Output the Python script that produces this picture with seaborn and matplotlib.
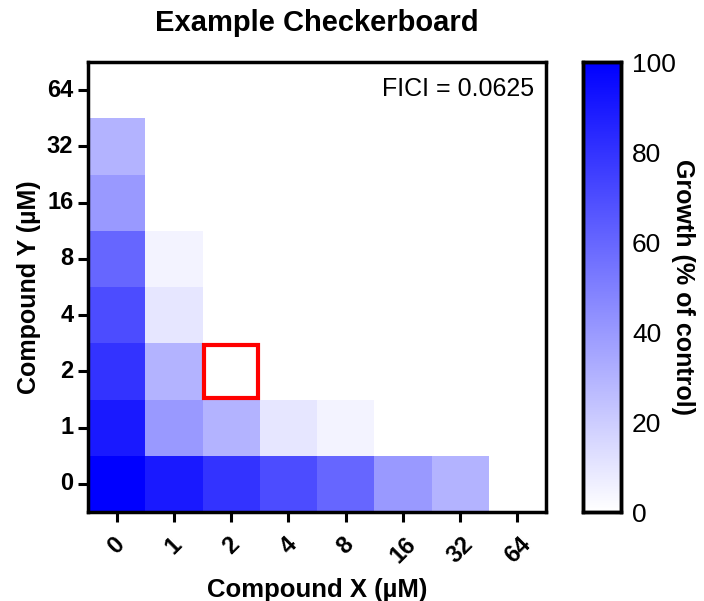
import numpy as np
import pandas as pd
import matplotlib
matplotlib.use("Agg")
import matplotlib.pyplot as plt
from matplotlib.colors import LinearSegmentedColormap
from matplotlib.patches import Rectangle
import seaborn as sns

# data: growth (% of control), rows = compound Y, cols = compound X
conc_x = ["0", "1", "2", "4", "8", "16", "32", "64"]
conc_y = ["0", "1", "2", "4", "8", "16", "32", "64"]
growth_y0 = [100, 90, 80, 70, 60, 40, 30, 0]
growth_y1 = [90, 40, 30, 10, 5, 0, 0, 0]
growth_y2 = [80, 30, 0, 0, 0, 0, 0, 0]
growth_y4 = [70, 10, 0, 0, 0, 0, 0, 0]
growth_y8 = [60, 5, 0, 0, 0, 0, 0, 0]
growth_y16 = [40, 0, 0, 0, 0, 0, 0, 0]
growth_y32 = [30, 0, 0, 0, 0, 0, 0, 0]
growth_y64 = [0, 0, 0, 0, 0, 0, 0, 0]
fici_x, fici_y = "2", "2"
fici_text = "FICI = 0.0625"

rows = [growth_y0, growth_y1, growth_y2, growth_y4,
        growth_y8, growth_y16, growth_y32, growth_y64]
df = pd.DataFrame(rows, index=conc_y, columns=conc_x).iloc[::-1]

sns.set_style("white")
plt.rcParams['font.family'] = ['Liberation Sans', 'DejaVu Sans']
plt.rcParams['text.color'] = 'black'
plt.rcParams['axes.labelcolor'] = 'black'
plt.rcParams['xtick.color'] = 'black'
plt.rcParams['ytick.color'] = 'black'

cmap = LinearSegmentedColormap.from_list("wb", ["#FFFFFF", "#0000FF"])

fig = plt.figure(figsize=(7.04, 6.01), dpi=100)
ax = fig.add_axes([88 / 704, 1 - 512 / 601, 458 / 704, 450 / 601])
cax = fig.add_axes([583 / 704, 1 - 512 / 601, 38 / 704, 450 / 601])

sns.heatmap(df, ax=ax, cmap=cmap, vmin=0, vmax=100, cbar_ax=cax,
            linewidths=0, square=False)

# highlight the FICI well
col = conc_x.index(fici_x)
row = list(df.index).index(fici_y)
ax.add_patch(Rectangle((col + 0.03, row + 0.03), 0.94, 0.94, fill=False,
                       edgecolor="#FF0000", linewidth=3, zorder=5))

ax.text(0.975, 0.94, fici_text, transform=ax.transAxes, ha="right",
        va="center", fontsize=18)

for s in ax.spines.values():
    s.set_visible(True)
    s.set_linewidth(2.5)
    s.set_color("black")
ax.tick_params(axis="both", direction="out", length=7, width=2.2,
               color="black", bottom=True, left=True)
ax.tick_params(axis="x", pad=8)
ax.set_xticklabels(conc_x, rotation=45, ha="center", fontweight="bold",
                   fontsize=17)
ax.set_yticklabels(df.index, rotation=0, fontweight="bold", fontsize=17)
ax.set_xlabel("Compound X (µM)", fontsize=18.5, fontweight="bold", labelpad=7)
ax.set_ylabel("Compound Y (µM)", fontsize=18, fontweight="bold", labelpad=4)
ax.set_title("Example Checkerboard", fontsize=21, fontweight="bold", pad=22)

# colorbar styling
for s in cax.spines.values():
    s.set_visible(True)
    s.set_linewidth(2.5)
    s.set_color("black")
cax.set_yticks([0, 20, 40, 60, 80, 100])
cax.tick_params(axis="y", direction="in", left=True, right=True, length=4,
                width=2.2, color="black", labelsize=19, pad=8)
cax.set_ylabel("Growth (% of control)", fontsize=18, fontweight="bold",
               rotation=270, labelpad=14)

fig.savefig("out.png", dpi=100)
